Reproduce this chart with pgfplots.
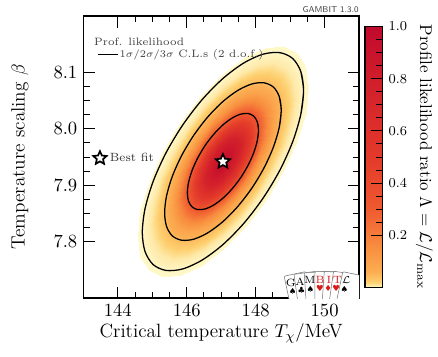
\documentclass[border=0pt]{standalone}
\usepackage{fontspec}
\usepackage{pgfplots}
\usepackage{pgfplotstable}
\pgfplotsset{compat=1.18}
\newfontfamily\symfont{DejaVu Sans}
\definecolor{cardred}{RGB}{220,25,25}

\pgfplotsset{colormap={gambit}{rgb255(0pt)=(255,251,208) rgb255(2pt)=(253,208,112)
  rgb255(6pt)=(252,174,82) rgb255(15pt)=(248,144,64) rgb255(30pt)=(240,90,48)
  rgb255(50pt)=(227,58,42) rgb255(75pt)=(212,34,43) rgb255(100pt)=(193,10,44)}}

\pgfdeclareplotmark{fstar}{%
  \pgfpathmoveto{\pgfpointpolar{90}{\pgfplotmarksize}}%
  \pgfpathlineto{\pgfpointpolar{126}{0.47\pgfplotmarksize}}%
  \pgfpathlineto{\pgfpointpolar{162}{\pgfplotmarksize}}%
  \pgfpathlineto{\pgfpointpolar{198}{0.47\pgfplotmarksize}}%
  \pgfpathlineto{\pgfpointpolar{234}{\pgfplotmarksize}}%
  \pgfpathlineto{\pgfpointpolar{270}{0.47\pgfplotmarksize}}%
  \pgfpathlineto{\pgfpointpolar{306}{\pgfplotmarksize}}%
  \pgfpathlineto{\pgfpointpolar{342}{0.47\pgfplotmarksize}}%
  \pgfpathlineto{\pgfpointpolar{18}{\pgfplotmarksize}}%
  \pgfpathlineto{\pgfpointpolar{54}{0.47\pgfplotmarksize}}%
  \pgfpathclose
  \pgfusepathqfillstroke}

% profile likelihood, sampled on rings around the best fit (one ring per scanline)
\pgfplotstableread{
x y L
147.050 7.942 1.0
147.050 7.942 1.0
147.050 7.942 1.0
147.050 7.942 1.0
147.050 7.942 1.0
147.050 7.942 1.0
147.050 7.942 1.0
147.050 7.942 1.0
147.050 7.942 1.0
147.050 7.942 1.0
147.050 7.942 1.0
147.050 7.942 1.0
147.050 7.942 1.0
147.050 7.942 1.0
147.050 7.942 1.0
147.050 7.942 1.0
147.050 7.942 1.0
147.050 7.942 1.0
147.050 7.942 1.0
147.050 7.942 1.0
147.050 7.942 1.0
147.050 7.942 1.0
147.050 7.942 1.0
147.050 7.942 1.0
147.050 7.942 1.0
147.560 7.9695 0.7548
147.543 7.9768 0.7548
147.492 7.9818 0.7548
147.411 7.9841 0.7548
147.305 7.9835 0.7548
147.182 7.9801 0.7548
147.050 7.9741 0.7548
146.918 7.9659 0.7548
146.795 7.9561 0.7548
146.689 7.9453 0.7548
146.608 7.9343 0.7548
146.557 7.9238 0.7548
146.540 7.9145 0.7548
146.557 7.9072 0.7548
146.608 7.9022 0.7548
146.689 7.8999 0.7548
146.795 7.9005 0.7548
146.918 7.9039 0.7548
147.050 7.9099 0.7548
147.182 7.9181 0.7548
147.305 7.9279 0.7548
147.411 7.9387 0.7548
147.492 7.9497 0.7548
147.543 7.9602 0.7548
147.560 7.9695 0.7548
148.082 7.9975 0.3166
148.046 8.0124 0.3166
147.943 8.0225 0.3166
147.779 8.0272 0.3166
147.566 8.0260 0.3166
147.317 8.0191 0.3166
147.050 8.0069 0.3166
146.783 7.9903 0.3166
146.534 7.9705 0.3166
146.321 7.9486 0.3166
146.157 7.9264 0.3166
146.054 7.9052 0.3166
146.018 7.8865 0.3166
146.054 7.8716 0.3166
146.157 7.8615 0.3166
146.321 7.8568 0.3166
146.534 7.8580 0.3166
146.783 7.8649 0.3166
147.050 7.8771 0.3166
147.317 7.8937 0.3166
147.566 7.9135 0.3166
147.779 7.9354 0.3166
147.943 7.9576 0.3166
148.046 7.9788 0.3166
148.082 7.9975 0.3166
148.342 8.0115 0.1645
148.298 8.0302 0.1645
148.169 8.0429 0.1645
147.964 8.0487 0.1645
147.696 8.0472 0.1645
147.384 8.0385 0.1645
147.050 8.0233 0.1645
146.716 8.0025 0.1645
146.404 7.9776 0.1645
146.137 7.9503 0.1645
145.931 7.9224 0.1645
145.802 7.8959 0.1645
145.758 7.8725 0.1645
145.802 7.8538 0.1645
145.931 7.8411 0.1645
146.136 7.8353 0.1645
146.404 7.8368 0.1645
146.716 7.8455 0.1645
147.050 7.8607 0.1645
147.384 7.8815 0.1645
147.696 7.9064 0.1645
147.963 7.9337 0.1645
148.169 7.9616 0.1645
148.298 7.9881 0.1645
148.342 8.0115 0.1645
148.546 8.0225 0.0889
148.495 8.0441 0.0889
148.346 8.0588 0.0889
148.108 8.0655 0.0889
147.798 8.0638 0.0889
147.437 8.0538 0.0889
147.050 8.0361 0.0889
146.663 8.0121 0.0889
146.302 7.9833 0.0889
145.992 7.9516 0.0889
145.754 7.9193 0.0889
145.605 7.8886 0.0889
145.554 7.8615 0.0889
145.605 7.8399 0.0889
145.754 7.8252 0.0889
145.992 7.8185 0.0889
146.302 7.8202 0.0889
146.663 7.8302 0.0889
147.050 7.8479 0.0889
147.437 7.8719 0.0889
147.798 7.9007 0.0889
148.108 7.9324 0.0889
148.346 7.9647 0.0889
148.495 7.9954 0.0889
148.546 8.0225 0.0889
148.741 8.0330 0.0455
148.683 8.0574 0.0455
148.514 8.0740 0.0455
148.245 8.0815 0.0455
147.895 8.0796 0.0455
147.488 8.0683 0.0455
147.050 8.0484 0.0455
146.613 8.0212 0.0455
146.205 7.9886 0.0455
145.855 7.9529 0.0455
145.586 7.9164 0.0455
145.417 7.8817 0.0455
145.359 7.8510 0.0455
145.417 7.8266 0.0455
145.586 7.8100 0.0455
145.855 7.8025 0.0455
146.205 7.8044 0.0455
146.612 7.8157 0.0455
147.050 7.8356 0.0455
147.487 7.8628 0.0455
147.895 7.8954 0.0455
148.245 7.9311 0.0455
148.514 7.9676 0.0455
148.683 8.0023 0.0455
148.741 8.0330 0.0455
148.954 8.0445 0.0198
148.889 8.0720 0.0198
148.699 8.0907 0.0198
148.396 8.0992 0.0198
148.002 8.0970 0.0198
147.543 8.0842 0.0198
147.050 8.0618 0.0198
146.557 8.0312 0.0198
146.098 7.9945 0.0198
145.704 7.9543 0.0198
145.401 7.9132 0.0198
145.211 7.8740 0.0198
145.146 7.8395 0.0198
145.211 7.8120 0.0198
145.401 7.7933 0.0198
145.704 7.7848 0.0198
146.098 7.7870 0.0198
146.557 7.7998 0.0198
147.050 7.8222 0.0198
147.543 7.8528 0.0198
148.002 7.8895 0.0198
148.396 7.9297 0.0198
148.699 7.9708 0.0198
148.889 8.0100 0.0198
148.954 8.0445 0.0198
149.158 8.0555 0.0082
149.086 8.0859 0.0082
148.876 8.1066 0.0082
148.541 8.1160 0.0082
148.104 8.1136 0.0082
147.596 8.0995 0.0082
147.050 8.0747 0.0082
146.504 8.0408 0.0082
145.996 8.0002 0.0082
145.560 7.9556 0.0082
145.224 7.9101 0.0082
145.014 7.8668 0.0082
144.942 7.8285 0.0082
145.014 7.7981 0.0082
145.224 7.7774 0.0082
145.559 7.7680 0.0082
145.996 7.7704 0.0082
146.504 7.7845 0.0082
147.050 7.8093 0.0082
147.596 7.8432 0.0082
148.104 7.8838 0.0082
148.540 7.9284 0.0082
148.876 7.9739 0.0082
149.086 8.0172 0.0082
149.158 8.0555 0.0082
149.389 8.0679 0.0027
149.309 8.1016 0.0027
149.075 8.1246 0.0027
148.704 8.1350 0.0027
148.219 8.1324 0.0027
147.655 8.1167 0.0027
147.050 8.0892 0.0027
146.445 8.0516 0.0027
145.881 8.0065 0.0027
145.396 7.9571 0.0027
145.025 7.9066 0.0027
144.791 7.8585 0.0027
144.711 7.8161 0.0027
144.791 7.7824 0.0027
145.025 7.7594 0.0027
145.396 7.7490 0.0027
145.881 7.7516 0.0027
146.445 7.7673 0.0027
147.050 7.7948 0.0027
147.655 7.8324 0.0027
148.219 7.8775 0.0027
148.704 7.9269 0.0027
149.075 7.9774 0.0027
149.309 8.0255 0.0027
149.389 8.0679 0.0027
149.520 8.0750 0.0013
149.434 8.1107 0.0013
149.190 8.1350 0.0013
148.790 8.1465 0.0013
148.280 8.1436 0.0013
147.690 8.1270 0.0013
147.050 8.0975 0.0013
146.410 8.0575 0.0013
145.810 8.0100 0.0013
145.295 7.9580 0.0013
144.900 7.9045 0.0013
144.650 7.8538 0.0013
144.580 7.8090 0.0013
144.650 7.7733 0.0013
144.900 7.7495 0.0013
145.310 7.7375 0.0013
145.820 7.7404 0.0013
146.410 7.7570 0.0013
147.050 7.7865 0.0013
147.690 7.8265 0.0013
148.290 7.8740 0.0013
148.805 7.9260 0.0013
149.200 7.9795 0.0013
149.450 8.0302 0.0013
149.520 8.0750 0.0013
}\meshdata

% contours (first and last points repeated so the smooth curve closes cleanly)
\pgfplotstableread{
x y
148.046 7.9788
148.082 7.9975
148.046 8.0124
147.943 8.0225
147.779 8.0272
147.566 8.0260
147.317 8.0191
147.050 8.0069
146.783 7.9903
146.534 7.9705
146.321 7.9486
146.157 7.9264
146.054 7.9052
146.018 7.8865
146.054 7.8716
146.157 7.8615
146.321 7.8568
146.534 7.8580
146.783 7.8649
147.050 7.8771
147.317 7.8937
147.566 7.9135
147.779 7.9354
147.943 7.9576
148.046 7.9788
148.082 7.9975
148.046 8.0124
}\onesigma
\pgfplotstableread{
x y
148.683 8.0023
148.741 8.0330
148.683 8.0574
148.514 8.0740
148.245 8.0815
147.895 8.0796
147.488 8.0683
147.050 8.0484
146.613 8.0212
146.205 7.9886
145.855 7.9529
145.586 7.9164
145.417 7.8817
145.359 7.8510
145.417 7.8266
145.586 7.8100
145.855 7.8025
146.205 7.8044
146.612 7.8157
147.050 7.8356
147.487 7.8628
147.895 7.8954
148.245 7.9311
148.514 7.9676
148.683 8.0023
148.741 8.0330
148.683 8.0574
}\twosigma
\pgfplotstableread{
x y
149.309 8.0255
149.389 8.0679
149.309 8.1016
149.075 8.1246
148.704 8.1350
148.219 8.1324
147.655 8.1167
147.050 8.0892
146.445 8.0516
145.881 8.0065
145.396 7.9571
145.025 7.9066
144.791 7.8585
144.711 7.8161
144.791 7.7824
145.025 7.7594
145.396 7.7490
145.881 7.7516
146.445 7.7673
147.050 7.7948
147.655 7.8324
148.219 7.8775
148.704 7.9269
149.075 7.9774
149.309 8.0255
149.389 8.0679
149.309 8.1016
}\threesigma

\begin{document}
\begin{tikzpicture}
\useasboundingbox (-49pt,-34.1pt) rectangle (208.6pt,175.3pt);
\begin{axis}[
  name=main, at={(0,0)}, anchor=south west,
  width=162.2pt, height=165.9pt, scale only axis,
  xmin=143, xmax=151, ymin=7.7, ymax=8.2,
  xtick={144,146,148,150}, minor x tick num=3,
  ytick={7.8,7.9,8.0,8.1}, minor y tick num=3,
  tick align=inside,
  major tick length=6.8pt, minor tick length=3.8pt,
  tick style={black, line width=0.6pt},
  axis line style={line width=0.8pt},
  tick label style={font=\fontsize{11}{13}\selectfont},
  yticklabel style={/pgf/number format/.cd, fixed, fixed zerofill, precision=1},
  xlabel={Critical temperature $T_\chi/$MeV},
  ylabel={Temperature scaling $\beta$},
  xlabel style={at={(axis description cs:0.5,-0.124)}, anchor=center,
    font=\fontsize{11.3}{13}\selectfont},
  ylabel style={at={(axis description cs:-0.23,0.5)}, anchor=center,
    font=\fontsize{11.3}{13}\selectfont},
  colormap name=gambit, point meta min=0, point meta max=1,
  colorbar,
  colorbar shift/.style={xshift=3.5pt},
  colorbar style={
    scale only axis, width=10.4pt, height=153.7pt,
    at={(parent axis.east)}, anchor=west,
    ytick={0.2,0.4,0.6,0.8,1.0}, minor y tick num=3,
    ytick pos=right, yticklabel pos=right,
    tick align=inside, major tick length=6.8pt, minor tick length=3.8pt,
    tick style={black, line width=0.6pt},
    axis line style={line width=0.8pt},
    yticklabel style={font=\fontsize{7.8}{9}\selectfont,
      /pgf/number format/.cd, fixed, fixed zerofill, precision=1},
    ylabel={Profile likelihood ratio $\Lambda=\mathcal{L}/\mathcal{L}_\mathrm{max}$},
    ylabel style={at={(axis description cs:3.35,0.5)}, anchor=center, rotate=180,
      font=\fontsize{10}{12}\selectfont},
  },
  legend style={at={(0.05,0.925)}, anchor=north west, draw=none, fill=none,
    font=\fontsize{6.3}{7}\selectfont, text=black!75, row sep=0pt, inner sep=0pt,
    nodes={inner sep=0.5pt, text height=4.4pt, text depth=1.2pt}},
  legend cell align=left,
  legend image code/.code={\draw[#1] (0pt,0pt) -- (11.8pt,0pt);},
]
\addplot[surf, shader=interp, mesh/rows=10, mesh/cols=25, point meta=explicit, forget plot]
  table[x=x, y=y, meta=L] {\meshdata};
\addlegendimage{empty legend}
\addlegendentry{\hspace*{-15pt}Prof. likelihood}
\addplot[black, line width=0.75pt, smooth] table[x=x, y=y] {\onesigma};
\addlegendentry{$1\sigma/2\sigma/3\sigma$ C.L.s (2 d.o.f.)}
\addplot[black, line width=0.75pt, smooth, forget plot] table[x=x, y=y] {\twosigma};
\addplot[black, line width=0.75pt, smooth, forget plot] table[x=x, y=y] {\threesigma};
\addplot[only marks, mark=fstar, mark size=4.4pt, forget plot,
  mark options={fill=white, draw=black, line width=1pt, line join=miter}]
  coordinates {(147.05,7.942)};
\end{axis}

% second legend: best fit marker
\begin{axis}[
  at={(0,0)}, anchor=south west,
  width=162.2pt, height=165.9pt, scale only axis, hide axis,
  xmin=0, xmax=1, ymin=0, ymax=1,
  legend style={at={(0.035,0.496)}, anchor=west, draw=none, fill=none,
    font=\fontsize{7}{8}\selectfont, text=black!80, inner sep=0pt},
  legend image code/.code={\draw[#1] plot coordinates {(4.2pt,0pt)};},
]
\addplot[only marks, mark=fstar, mark size=4.1pt,
  mark options={fill=white, draw=black, line width=1pt, line join=miter}]
  coordinates {(5,5)};
\addlegendentry{Best fit}
\end{axis}

\node[anchor=south east, inner sep=0pt, font=\fontsize{5}{6}\selectfont\sffamily, text=black!75]
  at ([yshift=1.8pt]main.north east) {GAMBIT 1.3.0};

% GAMBIT logo cards
\begin{scope}
\clip (0,0) rectangle (162.2pt,165.9pt);
\foreach \cx/\cy/\ang/\lt/\st/\cc in {
  122.0/9.0/12/G/♠/black,
  127.5/9.8/8/A/♣/black,
  133.2/10.4/4/M/♠/black,
  139.2/10.9/0/B/♥/cardred,
  144.4/10.9/-4/I/♦/cardred,
  149.5/10.8/-8/T/♥/cardred,
  154.6/10.4/-12/{$\mathcal{L}$}/♠/black}{
  \begin{scope}[shift={(\cx pt,\cy pt)}, rotate=\ang]
    \draw[fill=white, draw=black!55, line width=0.3pt, rounded corners=0.6pt]
      (-3pt,4.6pt) rectangle (10pt,-24pt);
    \node[inner sep=0pt, text=\cc, font=\fontsize{6.2}{7}\selectfont] at (0,0) {\lt};
    \node[inner sep=0pt, text=\cc, font=\fontsize{5}{6}\symfont] at (0,-5.2pt) {\st};
  \end{scope}
}
\end{scope}
\end{tikzpicture}
\end{document}
